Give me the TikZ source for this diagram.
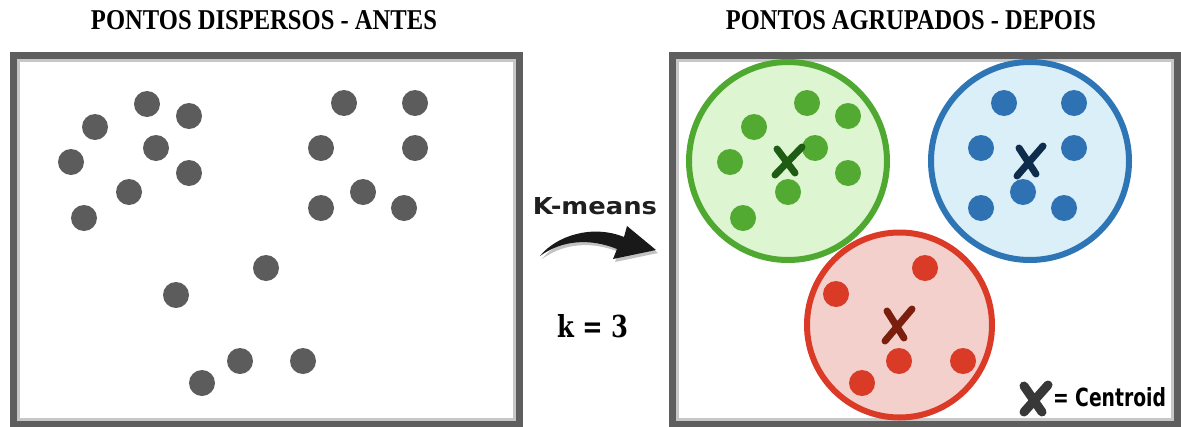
\documentclass[tikz,border=0pt]{standalone}
\usepackage{graphicx}
\usepackage{fontspec}
\newfontfamily\titlefont{Liberation Serif}
\newfontfamily\labelfont[FakeStretch=0.8]{DejaVu Sans}
\newfontfamily\kfont{DejaVu Serif}

\definecolor{panelgray}{HTML}{5E5E5E}
\definecolor{dotgray}{HTML}{5C5C5C}
\definecolor{gline}{HTML}{4FA82F}
\definecolor{gfill}{HTML}{DDF5D0}
\definecolor{gdot}{HTML}{52AA33}
\definecolor{gx}{HTML}{1E5C14}
\definecolor{bline}{HTML}{2E75B6}
\definecolor{bfill}{HTML}{DAEFF7}
\definecolor{bdot}{HTML}{2F72B4}
\definecolor{bx}{HTML}{0E2C4C}
\definecolor{rline}{HTML}{DB3B26}
\definecolor{rfill}{HTML}{F3D0CC}
\definecolor{rdot}{HTML}{D93B27}
\definecolor{rx}{HTML}{7A1E0E}
\definecolor{legendx}{HTML}{383838}

\tikzset{
  panel/.style={draw=panelgray, line width=7pt},
  panelshade/.style={draw=black!22, line width=3pt},
  pt/.style={circle, fill=#1, minimum size=26pt, inner sep=0pt},
  cluster/.style 2 args={circle, draw=#1, fill=#2, line width=6pt, inner sep=0pt},
  cross/.style={line width=7pt, line cap=round, draw=#1},
  caption/.style={inner sep=0pt},
}

\begin{document}
\begin{tikzpicture}[x=1pt, y=-1pt]
\useasboundingbox (0,0) rectangle (1181,426);

% headings
\node[caption] (tleft) at (264,20.5)
  {\resizebox{346pt}{19pt}{\titlefont\bfseries PONTOS DISPERSOS - ANTES}};
\node[caption] (tright) at (911,20.5)
  {\resizebox{370pt}{19pt}{\titlefont\bfseries PONTOS AGRUPADOS - DEPOIS}};

% inner shading of both panels
\draw[panelshade] (18,60) rectangle (514,419);
\draw[panelshade] (677,60) rectangle (1172,419);

% scattered points, before clustering
\foreach \x/\y [count=\i] in {147/104, 189/116, 95/127, 156/148, 71/162, 189/173,
    129/192, 84/218, 344/103, 415/103, 321/148, 415/148, 363/192, 321/208,
    404/208, 266/268, 176/295, 240/361, 303/361, 202/383}
  \node[pt=dotgray] (p\i) at (\x,\y) {};

% clusters, after k-means
\node[cluster={gline}{gfill}, minimum size=198pt] (cg) at (788,161) {};
\node[cluster={bline}{bfill}, minimum size=198pt] (cb) at (1030,161) {};
\node[cluster={rline}{rfill}, minimum size=185pt] (cr) at (899.5,325) {};

\foreach \x/\y [count=\i] in {807/103, 848/116, 754/127, 815/148, 730/162,
    848/173, 788/192, 743/218}
  \node[pt=gdot] (g\i) at (\x,\y) {};
\foreach \x/\y [count=\i] in {1004/103, 1074/103, 981/148, 1074/148, 1023/192,
    981/208, 1064/208}
  \node[pt=bdot] (b\i) at (\x,\y) {};
\foreach \x/\y [count=\i] in {925/268, 836/294, 899/361, 963/361, 862/383}
  \node[pt=rdot] (r\i) at (\x,\y) {};

% centroids
\draw[cross=gx] (777,149) -- (795,173) (802,147) -- (775,175);
\draw[cross=bx] (1019,148) -- (1036,174) (1043,146) -- (1017,176);
\draw[cross=rx] (887,311) -- (904,338) (912,309) -- (885,341);

% panel borders
\draw[panel] (13,55) rectangle (519,424);
\draw[panel] (672,55) rectangle (1177,424);

% k-means label and arrow
\node[caption, text=black!88] (km) at (595,206.5)
  {\resizebox{124pt}{17pt}{\labelfont\bfseries K-means}};

\def\kmarrow{(540,256) .. controls (556,236) and (592,224) .. (624,237)
  -- (627,226) -- (656,250) -- (613,259) -- (617,249)
  .. controls (590,238) and (562,240) .. (540,256) -- cycle}
\fill[black!40, opacity=0.6, shift={(2,3)}] \kmarrow;
\fill[black!90] \kmarrow;

\node[caption] (kval) at (592.5,326.5)
  {\resizebox{71pt}{23pt}{\kfont\bfseries k = 3}};

% legend
\draw[cross=legendx, line width=9pt] (1024,386) -- (1042,412) (1048,385) -- (1024,412);
\node[caption] (legend) at (1109.5,397.5)
  {\resizebox{113pt}{19pt}{\labelfont\bfseries = Centroid}};
\end{tikzpicture}
\end{document}
